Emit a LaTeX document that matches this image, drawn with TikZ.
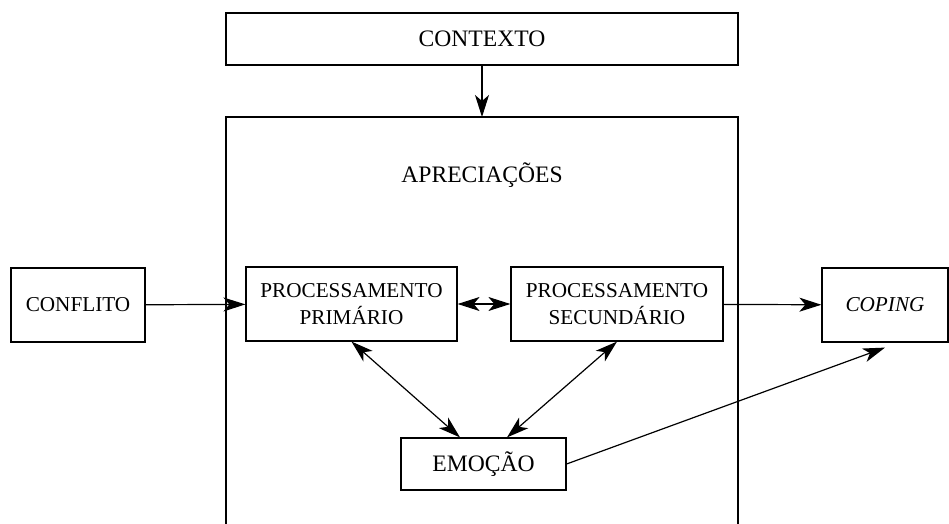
\documentclass[tikz,border=0pt]{standalone}
\usepackage{fontspec}
\setmainfont{Liberation Serif}
\usetikzlibrary{arrows.meta}

\begin{document}
\begin{tikzpicture}[x=0.5pt, y=-0.5pt, line width=0.6pt,
    font=\fontsize{11.8}{13.5}\selectfont,
    menor/.style={font=\fontsize{10.6}{13.5}\selectfont},
    caixa/.style={rectangle, draw, inner sep=0pt, align=center, minimum height=#1},
    caixa/.default=37pt,
    seta/.style={-{Stealth[length=11pt, width=7pt, inset=3pt]}},
    setas/.style={{Stealth[length=11pt, width=7pt, inset=3pt]}-{Stealth[length=11pt, width=7pt, inset=3pt]}}]
    \useasboundingbox (0,0) rectangle (949,524);
    \node[caixa=26pt, minimum width=256pt] (contexto) at (482,39) {CONTEXTO};
    \coordinate (topo) at (482,117);
    \draw (226,524) -- (226,117) -- (738,117) -- (738,524);
    \node (apreciacoes) at (482,175) {APRECIAÇÕES};
    \node[caixa, menor, minimum width=67pt] (conflito) at (78,305) {CONFLITO};
    \node[caixa, menor, minimum width=105.5pt] (primario) at (351.5,304) {PROCESSAMENTO\\PRIMÁRIO};
    \node[caixa, menor, minimum width=106pt] (secundario) at (617,304) {PROCESSAMENTO\\SECUNDÁRIO};
    \node[caixa, menor, minimum width=63pt] (coping) at (885,305) {\textit{COPING}};
    \node[caixa=26pt, minimum width=82.5pt] (emocao) at (483.5,464) {EMOÇÃO};
    \draw[seta] (contexto) -- (topo);
    \draw[seta] (conflito) -- (primario);
    \draw[setas] (primario) -- (secundario);
    \draw[seta] (secundario) -- (coping);
    \draw[setas] (primario.south) -- ([xshift=-11.75pt]emocao.north);
    \draw[setas] (secundario.south) -- ([xshift=11.75pt]emocao.north);
    \draw[seta] (emocao.east) -- ([yshift=-2.5pt]coping.south);
\end{tikzpicture}
\end{document}
